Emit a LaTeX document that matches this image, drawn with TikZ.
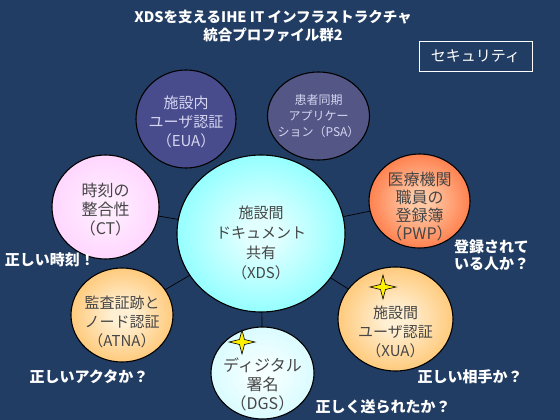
\documentclass[tikz,border=0pt]{standalone}
\usepackage{fontspec}
\newfontfamily\jp{Noto Sans CJK JP}
\usetikzlibrary{shapes.geometric}
\definecolor{bgnavy}{RGB}{34,61,99}
\definecolor{euafill}{RGB}{72,76,140}
\definecolor{psafill}{RGB}{84,86,134}
\definecolor{lavtext}{RGB}{214,214,242}
\definecolor{graytext}{RGB}{70,70,70}
\definecolor{cyanedge}{RGB}{100,255,255}
\definecolor{cyanin}{RGB}{225,255,255}
\definecolor{pinkedge}{RGB}{255,200,255}
\definecolor{pinkin}{RGB}{255,236,255}
\definecolor{redge}{RGB}{255,84,24}
\definecolor{redin}{RGB}{255,200,165}
\definecolor{oredge}{RGB}{255,178,68}
\definecolor{orin}{RGB}{255,240,212}
\definecolor{lcyedge}{RGB}{200,250,255}
\definecolor{lcyin}{RGB}{245,255,255}
\definecolor{staryellow}{RGB}{255,240,0}
\makeatletter
\pgfdeclareradialshading[tikz@radial@inner,tikz@radial@outer]{softball}{\pgfpoint{0bp}{0bp}}{color(0bp)=(tikz@radial@inner);color(5bp)=(tikz@radial@inner);color(38bp)=(tikz@radial@outer);color(50bp)=(tikz@radial@outer)}
\makeatother
\tikzset{
  bubble/.style={ellipse,draw=black,line width=1.1pt,inner sep=0pt,outer sep=0pt},
  grad/.style n args={2}{inner color=#1,outer color=#2,shading=softball},
  ctext/.style={align=center,text=graytext,inner sep=0pt},
  ltext/.style={align=center,text=lavtext,inner sep=0pt},
  wlabel/.style={text=white,inner sep=0pt,font=\jp\bfseries\fontsize{15}{17}\selectfont},
  conn/.style={draw=black,line width=0.7pt},
  starshape/.style={fill=staryellow,draw=black,line width=0.6pt}
}
\begin{document}
\begin{tikzpicture}[x=1pt,y=-1pt]
\useasboundingbox (0,0) rectangle (560,420);
\fill[bgnavy] (0,0) rectangle (560,420);

% title
\node[text=white,align=center,inner sep=0pt,font=\jp\bfseries\fontsize{14.5}{18}\selectfont] (title) at (273,26)
  {XDSを支えるIHE IT インフラストラクチャ\\統合プロファイル群2};

% security box
\node[draw=white,line width=0.9pt,text=white,minimum width=113pt,minimum height=30pt,inner sep=0pt,font=\jp\fontsize{15}{17}\selectfont] (sec) at (475.5,56) {セキュリティ};

% bubbles
\node[bubble,fill=euafill,minimum width=100pt,minimum height=98pt] (eua) at (186,119) {};
\node[bubble,fill=psafill,minimum width=102pt,minimum height=88pt] (psa) at (318.5,116) {};
\node[bubble,grad={cyanin}{cyanedge},minimum width=168pt,minimum height=157pt] (xds) at (261,233.5) {};
\node[bubble,grad={pinkin}{pinkedge},minimum width=107pt,minimum height=104pt] (ct) at (105.5,207) {};
\node[bubble,grad={redin}{redge},minimum width=101pt,minimum height=94pt] (pwp) at (419.5,201) {};
\node[bubble,grad={orin}{oredge},minimum width=115pt,minimum height=104pt] (xua) at (395.5,319) {};
\node[bubble,grad={orin}{oredge},minimum width=102pt,minimum height=94pt] (atna) at (122,315) {};
\node[bubble,grad={lcyin}{lcyedge},minimum width=103pt,minimum height=92pt] (dgs) at (262.5,373) {};

% connectors
\draw[conn] (xds) -- (ct);
\draw[conn] (xds) -- (pwp);
\draw[conn] (xds) -- (xua);
\draw[conn] (xds) -- (atna);
\draw[conn] (xds) -- (dgs);

% bubble texts
\node[ltext,font=\jp\fontsize{15}{19}\selectfont] (euaT) at (186,122) {施設内\\ユーザ認証\\（EUA）};
\node[ltext,font=\jp\fontsize{12}{16}\selectfont] (psaT) at (318.5,116) {患者同期\\アプリケー\\ション（PSA）};
\node[ctext,font=\jp\fontsize{15}{20}\selectfont] (xdsT) at (261,243) {施設間\\ドキュメント\\共有\\（XDS）};
\node[ctext,font=\jp\fontsize{16}{19}\selectfont] (ctT) at (105.5,210) {時刻の\\整合性\\（CT）};
\node[ctext,font=\jp\fontsize{16}{18}\selectfont] (pwpT) at (419.5,207) {医療機関\\職員の\\登録簿\\（PWP）};
\node[ctext,font=\jp\fontsize{15}{19}\selectfont] (xuaT) at (395.5,332) {施設間\\ユーザ認証\\（XUA）};
\node[ctext,font=\jp\fontsize{15}{19}\selectfont] (atnaT) at (122,322) {監査証跡と\\ノード認証\\（ATNA）};
\node[ctext,font=\jp\fontsize{16}{19}\selectfont] (dgsT) at (262.5,384) {ディジタル\\署名\\（DGS）};

% stars
\coordinate (starD) at (242,342);
\coordinate (starX) at (383,287);
\foreach \c in {starD,starX}{
  \draw[starshape] (\c) ++(13,0) -- ++(-10.5,-2.5) -- ++(-2.5,-9.5) -- ++(-2.5,9.5) -- ++(-10.5,2.5)
     -- ++(10.5,2.5) -- ++(2.5,9.5) -- ++(2.5,-9.5) -- cycle;
}

% white labels
\node[wlabel] (q1) at (50,260) {正しい時刻！};
\node[wlabel,align=left,anchor=west] (q2) at (454,255) {登録されて\\いる人か？};
\node[wlabel] (q3) at (89,377) {正しいアクタか？};
\node[wlabel] (q4) at (470,377) {正しい相手か？};
\node[wlabel] (q5) at (383,407) {正しく送られたか？};
\end{tikzpicture}
\end{document}
